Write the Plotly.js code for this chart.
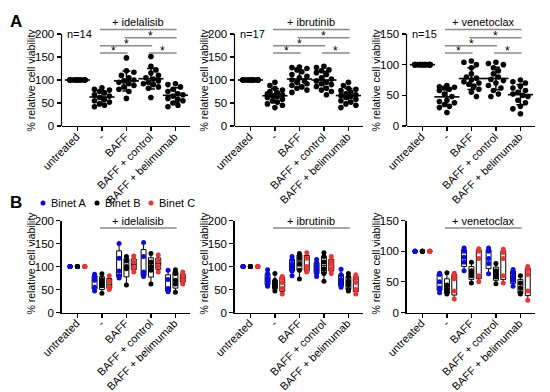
<!DOCTYPE html>
<html><head><meta charset="utf-8">
<script src="https://cdn.plot.ly/plotly-3.0.1.min.js"></script>
<style>html,body{margin:0;padding:0;background:#fff}#chart{width:550px;height:392px}</style>
</head><body><div id="chart"></div>
<script>
// ---------- categories / labels ----------
const categories = ['untreated', '-', 'BAFF', 'BAFF + control', 'BAFF + belimumab'];
const drugs = ['+ idelalisib', '+ ibrutinib', '+ venetoclax'];
const nLabels = ['n=14', 'n=17', 'n=15'];
const yTickMax = [200, 200, 150];
const yTicks200 = [0, 50, 100, 150, 200];
const yTicks150 = [0, 50, 100, 150];
const groups = ['Binet A', 'Binet B', 'Binet C'];
const groupColors = ['#0a0ae6', '#000000', '#f03232'];

// ---------- panel A: all patients ----------
const ide_untreated = [100,100,100,100,100,100,100,100,100,100,100,100,100,100];
const ide_minus   = [83, 80, 78, 75, 72, 68, 65, 62, 58, 55, 52, 48, 45, 42];
const ide_baff    = [148, 120, 117, 110, 105, 100, 98, 95, 92, 88, 85, 80, 75, 60];
const ide_control = [151, 130, 122, 115, 110, 105, 102, 98, 95, 92, 90, 85, 82, 62];
const ide_belim   = [92, 90, 85, 80, 75, 70, 68, 65, 60, 58, 55, 50, 45, 42];

const ibr_untreated = [100,100,100,100,100,100,100,100,100,100,100,100,100,100,100,100,100];
const ibr_minus   = [95, 88, 82, 78, 75, 72, 70, 68, 66, 64, 62, 58, 55, 52, 48, 45, 40];
const ibr_baff    = [128, 127, 125, 122, 118, 112, 108, 105, 100, 98, 95, 92, 88, 85, 82, 78, 73];
const ibr_control = [130, 127, 122, 120, 116, 112, 105, 102, 98, 95, 92, 90, 86, 82, 78, 75, 68];
const ibr_belim   = [95, 88, 82, 80, 77, 74, 70, 68, 66, 64, 62, 58, 55, 52, 48, 45, 40];

const ven_untreated = [100,100,100,100,100,100,100,100,100,100,100,100,100,100,100];
const ven_minus   = [66, 64, 63, 62, 60, 58, 52, 48, 42, 40, 38, 35, 32, 30, 22];
const ven_baff    = [106, 104, 100, 95, 85, 80, 78, 75, 72, 70, 68, 65, 60, 55, 48];
const ven_control = [104, 102, 100, 95, 90, 85, 80, 76, 74, 70, 66, 62, 58, 52, 48];
const ven_belim   = [75, 72, 70, 65, 62, 58, 55, 52, 50, 48, 42, 38, 32, 28, 20];

// ---------- panel B: by Binet stage (per category: untreated, -, BAFF, BAFF+control, BAFF+belimumab) ----------
const ide_binetA = [[100,100,100,100,100], [83, 77, 70, 55, 47], [150, 118, 90, 80, 75], [152, 122, 88, 82, 78], [92, 72, 52, 48, 45]];
const ide_binetB = [[100,100,100,100,100], [84, 72, 65, 58, 42], [122, 112, 100, 95, 60], [128, 110, 100, 92, 62], [93, 85, 70, 62, 44]];
const ide_binetC = [[100,100,100,100], [80, 68, 55, 50], [123, 110, 98, 88], [125, 112, 100, 88], [88, 80, 70, 62]];

const ibr_binetA = [[100,100,100,100,100,100], [93, 84, 75, 68, 60, 57], [122, 115, 105, 98, 90, 80], [115, 108, 100, 92, 85, 78], [94, 82, 72, 65, 58, 55]];
const ibr_binetB = [[100,100,100,100,100,100], [85, 70, 62, 58, 52, 47], [128, 125, 118, 105, 92, 73], [130, 122, 110, 95, 85, 68], [85, 78, 68, 60, 50, 47]];
const ibr_binetC = [[100,100,100,100,100], [78, 75, 65, 52, 40], [130, 118, 100, 92, 88], [122, 110, 105, 95, 85], [82, 75, 65, 50, 40]];

const ven_binetA = [[100,100,100,100,100], [64, 62, 50, 40, 32], [105, 100, 90, 82, 68], [105, 100, 88, 80, 63], [70, 65, 58, 52, 43]];
const ven_binetB = [[100,100,100,100,100], [65, 45, 38, 33, 30], [82, 68, 65, 60, 48], [80, 68, 62, 58, 47], [60, 48, 40, 32, 30]];
const ven_binetC = [[100,100,100,100,100], [64, 60, 55, 35, 22], [104, 100, 88, 60, 50], [103, 98, 88, 60, 48], [75, 70, 62, 35, 20]];

// significance comparisons (category indices) and stacking level (0 = top)
const comparisons = [[1, 4, 0, ''], [2, 4, 1, '*'], [1, 3, 2, '*'], [1, 2, 3, '*'], [3, 4, 3, '*']];

// ---------- assemble ----------
const panelA = [
  [ide_untreated, ide_minus, ide_baff, ide_control, ide_belim],
  [ibr_untreated, ibr_minus, ibr_baff, ibr_control, ibr_belim],
  [ven_untreated, ven_minus, ven_baff, ven_control, ven_belim]
];
const panelB = [[ide_binetA, ide_binetB, ide_binetC], [ibr_binetA, ibr_binetB, ibr_binetC], [ven_binetA, ven_binetB, ven_binetC]];

const W = 550, H = 392;
const px = v => v / W, py = v => 1 - v / H;
const FONT = 'Arial, "Liberation Sans", Helvetica, sans-serif';
const panelLeft = [61.5, 234.5, 406.5];
const xRange = [-0.65, 4.6];
const unitPx = 24.5;
const plotW = (xRange[1] - xRange[0]) * unitPx;
const A0 = 126, ATop = 34, AExt = 16;      // pixel rows for panel A
const B0 = 312.5, BTop = 220.5;            // pixel rows for panel B
const sigFrac = [1.049, 0.96, 0.873, 0.794];
const SIGCOL = '#8a8a8a';

function mean(a) { return a.reduce((s, v) => s + v, 0) / a.length; }
function sd(a) { const m = mean(a); return Math.sqrt(a.reduce((s, v) => s + (v - m) * (v - m), 0) / (a.length - 1)); }

// deterministic beeswarm offsets (pixel collision based)
function swarm(vals, pyu, pxu, diam, maxPx) {
  const idx = vals.map((v, i) => i).sort((a, b) => vals[b] - vals[a]);
  const placed = [], off = new Array(vals.length);
  const step = 2.5;
  const cands = [0];
  for (let k = 1; k * step <= maxPx + 1e-6; k++) { cands.push(k * step, -k * step); }
  idx.forEach((i, n) => {
    const y = vals[i] * pyu;
    let best = 0, bestCost = Infinity;
    const order = (n % 2) ? cands.map(c => -c) : cands;
    for (const c of order) {
      let cost = 0;
      for (const p of placed) { const d = Math.hypot(p.x - c, p.y - y); if (d < diam) cost += diam - d; }
      if (cost < 1e-9) { best = c; bestCost = 0; break; }
      if (cost < bestCost) { bestCost = cost; best = c; }
    }
    placed.push({ x: best, y });
    off[i] = best / pxu;
  });
  return off;
}

const traces = [];
const layout = {
  width: W, height: H, margin: { l: 0, r: 0, t: 0, b: 0 },
  paper_bgcolor: '#fff', plot_bgcolor: 'rgba(0,0,0,0)', showlegend: false,
  font: { family: FONT, size: 11.5, color: '#000' }, boxmode: 'overlay',
  shapes: [], annotations: []
};

function xAxisDef(p, anchor) {
  return {
    domain: [px(panelLeft[p]), px(panelLeft[p] + plotW)], range: xRange, type: 'linear', anchor: anchor,
    tickmode: 'array', tickvals: [0, 1, 2, 3, 4], ticktext: categories, tickangle: -45,
    ticks: 'outside', ticklen: 4, tickwidth: 1.2, tickcolor: '#000', ticklabelstandoff: -5, ticklabelshift: -1,
    showline: true, linecolor: '#000', linewidth: 1.2, showgrid: false, zeroline: false,
    tickfont: { size: 11, color: '#000', family: FONT }, fixedrange: true
  };
}
function yAxisDef(dom, range, ticks, anchor, line) {
  return {
    domain: dom, range: range, anchor: anchor, tickmode: 'array', tickvals: ticks,
    ticks: 'outside', ticklen: 4, tickwidth: 1.2, tickcolor: '#000',
    showline: line, linecolor: '#000', linewidth: 1.2, showgrid: false, zeroline: false,
    tickfont: { size: 11.5, color: '#000', family: FONT }, fixedrange: true
  };
}

for (let p = 0; p < 3; p++) {
  const tm = yTickMax[p];
  const ticks = tm === 200 ? yTicks200 : yTicks150;
  // ---------- Panel A ----------
  const ia = p + 1, xa = ia === 1 ? 'x' : 'x' + ia, ya = ia === 1 ? 'y' : 'y' + ia;
  const yTopA = tm * (A0 - AExt) / (A0 - ATop);
  layout[ia === 1 ? 'xaxis' : 'xaxis' + ia] = xAxisDef(p, ya);
  layout[ia === 1 ? 'yaxis' : 'yaxis' + ia] = yAxisDef([py(A0), py(AExt)], [0, yTopA], ticks, xa, false);
  layout.shapes.push({ type: 'line', xref: xa + ' domain', yref: ya, x0: 0, x1: 0, y0: 0, y1: tm, line: { color: '#000', width: 1.2 } });

  const pyu = (A0 - ATop) / tm;
  const xs = [], ys = [];
  panelA[p].forEach((vals, i) => {
    const off = swarm(vals, pyu, unitPx, 5.6, 7.5);
    vals.forEach((v, k) => { xs.push(i + off[k]); ys.push(v); });
  });
  traces.push({ type: 'scatter', mode: 'markers', x: xs, y: ys, xaxis: xa, yaxis: ya, cliponaxis: false,
    marker: { size: 5.6, color: '#000' }, hoverinfo: 'skip' });
  traces.push({ type: 'scatter', mode: 'markers', x: [0, 1, 2, 3, 4], y: panelA[p].map(mean), xaxis: xa, yaxis: ya, cliponaxis: false,
    error_y: { type: 'data', array: panelA[p].map(sd), visible: true, color: '#000', thickness: 1.5, width: 4 },
    marker: { symbol: 'line-ew', size: 18, color: '#000', line: { width: 1.6, color: '#000' } }, hoverinfo: 'skip' });

  comparisons.forEach(([a, b, lev, star]) => {
    const yv = tm * sigFrac[lev];
    const x0 = a - 0.08, x1 = b + 0.05;
    layout.shapes.push({ type: 'line', xref: xa, yref: ya, x0: x0, x1: x1, y0: yv, y1: yv, line: { color: SIGCOL, width: 1.5 } });
    if (star) layout.annotations.push({ xref: xa, yref: ya, x: (x0 + x1) / 2, y: yv, text: star, showarrow: false, yanchor: 'middle', yshift: 1.5, font: { size: 12, color: '#000' } });
    if (lev === 0) layout.annotations.push({ xref: xa, yref: ya, x: (x0 + x1) / 2, y: yv, text: drugs[p], showarrow: false, yanchor: 'middle', yshift: 7, font: { size: 11, color: '#000' } });
  });
  layout.annotations.push({ xref: xa + ' domain', yref: ya, x: 0.027, y: tm, text: nLabels[p], showarrow: false, xanchor: 'left', yanchor: 'middle', font: { size: 11, color: '#000' } });
  layout.annotations.push({ xref: 'paper', yref: 'paper', x: px(panelLeft[p] - 31), y: py((A0 + ATop) / 2), text: '% relative cell viability', textangle: -90, showarrow: false, xanchor: 'center', yanchor: 'middle', font: { size: 10.5, color: '#000' } });

  // ---------- Panel B ----------
  const ib = p + 4, xb = 'x' + ib, yb = 'y' + ib;
  layout['xaxis' + ib] = xAxisDef(p, yb);
  layout['yaxis' + ib] = yAxisDef([py(B0), py(BTop)], [0, tm], ticks, xb, true);
  panelB[p].forEach((grp, g) => {
    const dx = (g - 1) * 0.3;
    const gx = [], gy = [];
    grp.forEach((vals, i) => {
      traces.push({ type: 'box', x0: i + dx, y: vals, xaxis: xb, yaxis: yb, width: 0.2, boxpoints: false,
        fillcolor: '#fff', line: { color: '#000', width: 1 }, whiskerwidth: 0, quartilemethod: 'exclusive', hoverinfo: 'skip' });
      vals.forEach(v => { gx.push(i + dx); gy.push(v); });
    });
    traces.push({ type: 'scatter', mode: 'markers', x: gx, y: gy, xaxis: xb, yaxis: yb, cliponaxis: false,
      marker: { size: 5, color: groupColors[g] }, hoverinfo: 'skip' });
  });
  const lvB = tm * 0.918;
  layout.shapes.push({ type: 'line', xref: xb, yref: yb, x0: 1 - 0.08, x1: 4 + 0.05, y0: lvB, y1: lvB, line: { color: SIGCOL, width: 1.5 } });
  layout.annotations.push({ xref: xb, yref: yb, x: (0.92 + 4.05) / 2, y: lvB, text: drugs[p], showarrow: false, yanchor: 'middle', yshift: 7, font: { size: 11, color: '#000' } });
  layout.annotations.push({ xref: 'paper', yref: 'paper', x: px(panelLeft[p] - 31), y: py(263), text: '% relative cell viability', textangle: -90, showarrow: false, xanchor: 'center', yanchor: 'middle', font: { size: 10.5, color: '#000' } });
}

// panel letters
layout.annotations.push({ xref: 'paper', yref: 'paper', x: px(8), y: py(21.5), text: '<b>A</b>', showarrow: false, xanchor: 'left', yanchor: 'middle', font: { size: 17, color: '#000' } });
layout.annotations.push({ xref: 'paper', yref: 'paper', x: px(8), y: py(202.5), text: '<b>B</b>', showarrow: false, xanchor: 'left', yanchor: 'middle', font: { size: 17, color: '#000' } });

// legend (Binet stages)
const legDotX = [43, 97, 151], legY = 203;
groups.forEach((g, k) => {
  layout.shapes.push({ type: 'circle', xref: 'paper', yref: 'paper', x0: px(legDotX[k] - 2.5), x1: px(legDotX[k] + 2.5), y0: py(legY + 2.5), y1: py(legY - 2.5), fillcolor: groupColors[k], line: { width: 0 } });
  layout.annotations.push({ xref: 'paper', yref: 'paper', x: px(legDotX[k] + 6), y: py(legY), text: g, showarrow: false, xanchor: 'left', yanchor: 'middle', font: { size: 11, color: '#000' } });
});

Plotly.newPlot('chart', traces, layout, { displayModeBar: false, staticPlot: true });
</script>
</body></html>
